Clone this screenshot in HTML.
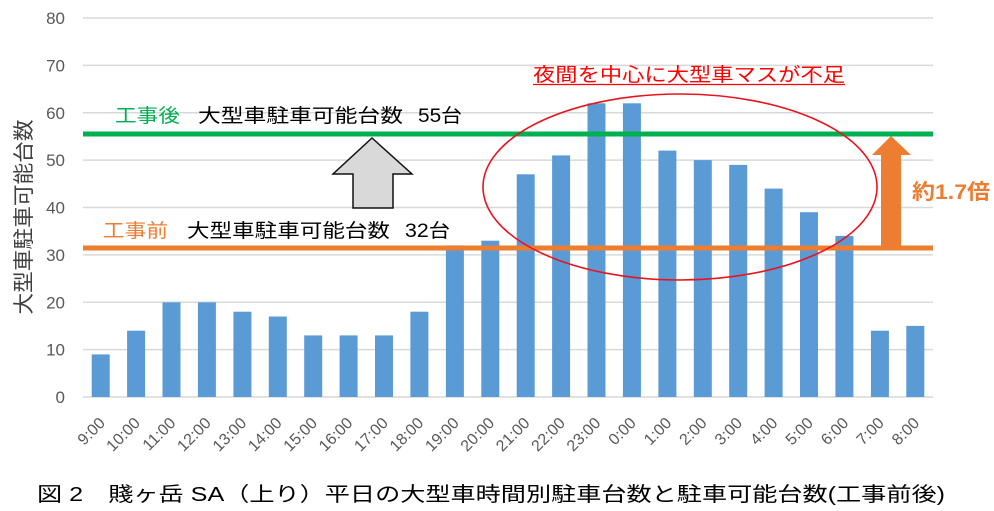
<!DOCTYPE html>
<html><head><meta charset="utf-8"><style>
html,body{margin:0;padding:0;background:#fff;}
svg{display:block;}
text{font-family:"Liberation Sans","Noto Sans CJK JP",sans-serif;}
</style></head><body>
<svg width="994" height="511" viewBox="0 0 994 511" xmlns="http://www.w3.org/2000/svg">
<rect width="994" height="511" fill="#fff"/>
<!-- gridlines -->
<g stroke="#D9D9D9" stroke-width="1.5">
<line x1="83" y1="18" x2="933" y2="18"/>
<line x1="83" y1="65.4" x2="933" y2="65.4"/>
<line x1="83" y1="112.8" x2="933" y2="112.8"/>
<line x1="83" y1="160.1" x2="933" y2="160.1"/>
<line x1="83" y1="207.5" x2="933" y2="207.5"/>
<line x1="83" y1="254.9" x2="933" y2="254.9"/>
<line x1="83" y1="302.3" x2="933" y2="302.3"/>
<line x1="83" y1="349.6" x2="933" y2="349.6"/>
<line x1="83" y1="397" x2="933" y2="397"/>
</g>
<!-- y labels -->
<g fill="#595959" font-size="17" text-anchor="end">
<text x="65" y="24">80</text>
<text x="65" y="71.4">70</text>
<text x="65" y="118.8">60</text>
<text x="65" y="166.1">50</text>
<text x="65" y="213.5">40</text>
<text x="65" y="260.9">30</text>
<text x="65" y="308.3">20</text>
<text x="65" y="355.6">10</text>
<text x="65" y="403">0</text>
</g>
<!-- axis title -->
<text x="31" y="217" font-size="21" fill="#404040" text-anchor="middle" textLength="195" lengthAdjust="spacingAndGlyphs" transform="rotate(-90 31 217)">大型車駐車可能台数</text>
<!-- bars -->
<g fill="#5B9BD5">
<rect x="91.7" y="354.4" width="18" height="42.6"/>
<rect x="127.1" y="330.7" width="18" height="66.3"/>
<rect x="162.5" y="302.3" width="18" height="94.7"/>
<rect x="197.9" y="302.3" width="18" height="94.7"/>
<rect x="233.4" y="311.7" width="18" height="85.3"/>
<rect x="268.8" y="316.5" width="18" height="80.5"/>
<rect x="304.2" y="335.4" width="18" height="61.6"/>
<rect x="339.6" y="335.4" width="18" height="61.6"/>
<rect x="375.0" y="335.4" width="18" height="61.6"/>
<rect x="410.4" y="311.7" width="18" height="85.3"/>
<rect x="445.9" y="245.4" width="18" height="151.6"/>
<rect x="481.3" y="240.7" width="18" height="156.3"/>
<rect x="516.7" y="174.3" width="18" height="222.7"/>
<rect x="552.1" y="155.4" width="18" height="241.6"/>
<rect x="587.5" y="103.3" width="18" height="293.7"/>
<rect x="622.9" y="103.3" width="18" height="293.7"/>
<rect x="658.4" y="150.6" width="18" height="246.4"/>
<rect x="693.8" y="160.1" width="18" height="236.9"/>
<rect x="729.2" y="164.9" width="18" height="232.1"/>
<rect x="764.6" y="188.6" width="18" height="208.4"/>
<rect x="800.0" y="212.2" width="18" height="184.8"/>
<rect x="835.4" y="235.9" width="18" height="161.1"/>
<rect x="870.9" y="330.7" width="18" height="66.3"/>
<rect x="906.3" y="325.9" width="18" height="71.1"/>
</g>
<!-- x labels -->
<g fill="#595959" font-size="16" text-anchor="end">
<text transform="translate(106,424) rotate(-45)">9:00</text>
<text transform="translate(141.1,424) rotate(-45)">10:00</text>
<text transform="translate(176.5,424) rotate(-45)">11:00</text>
<text transform="translate(211.9,424) rotate(-45)">12:00</text>
<text transform="translate(247.4,424) rotate(-45)">13:00</text>
<text transform="translate(282.8,424) rotate(-45)">14:00</text>
<text transform="translate(318.2,424) rotate(-45)">15:00</text>
<text transform="translate(353.6,424) rotate(-45)">16:00</text>
<text transform="translate(389.0,424) rotate(-45)">17:00</text>
<text transform="translate(424.4,424) rotate(-45)">18:00</text>
<text transform="translate(459.9,424) rotate(-45)">19:00</text>
<text transform="translate(495.3,424) rotate(-45)">20:00</text>
<text transform="translate(530.7,424) rotate(-45)">21:00</text>
<text transform="translate(566.1,424) rotate(-45)">22:00</text>
<text transform="translate(601.5,424) rotate(-45)">23:00</text>
<text transform="translate(636.9,424) rotate(-45)">0:00</text>
<text transform="translate(672.4,424) rotate(-45)">1:00</text>
<text transform="translate(707.8,424) rotate(-45)">2:00</text>
<text transform="translate(743.2,424) rotate(-45)">3:00</text>
<text transform="translate(778.6,424) rotate(-45)">4:00</text>
<text transform="translate(814.0,424) rotate(-45)">5:00</text>
<text transform="translate(849.4,424) rotate(-45)">6:00</text>
<text transform="translate(884.9,424) rotate(-45)">7:00</text>
<text transform="translate(920.3,424) rotate(-45)">8:00</text>
</g>
<!-- capacity lines -->
<line x1="83" y1="134" x2="933" y2="134" stroke="#00B050" stroke-width="5"/>
<line x1="83" y1="248" x2="933" y2="248" stroke="#ED7D31" stroke-width="5"/>
<!-- ellipse -->
<ellipse cx="680" cy="187" rx="197" ry="93" fill="none" stroke="#E8141E" stroke-width="1.6"/>
<!-- gray arrow -->
<polygon points="372,138 412,174 393,174 393,208 353,208 353,174 333,174" fill="#D9D9D9" stroke="#111" stroke-width="1.5" stroke-linejoin="miter"/>
<!-- orange arrow -->
<polygon points="891,136 911,155 901,155 901,246 881,246 881,155 872,155" fill="#ED7D31"/>
<!-- texts -->
<text x="115" y="122" font-size="19" fill="#00B050" textLength="65" lengthAdjust="spacingAndGlyphs">工事後</text>
<text x="198" y="122" font-size="19" fill="#000" textLength="205" lengthAdjust="spacingAndGlyphs">大型車駐車可能台数</text>
<text x="418" y="122" font-size="19" fill="#000" textLength="44" lengthAdjust="spacingAndGlyphs">55台</text>
<text x="103" y="237" font-size="19" fill="#ED7D31" textLength="65" lengthAdjust="spacingAndGlyphs">工事前</text>
<text x="187" y="237" font-size="19" fill="#000" textLength="203" lengthAdjust="spacingAndGlyphs">大型車駐車可能台数</text>
<text x="405" y="237" font-size="19" fill="#000" textLength="45" lengthAdjust="spacingAndGlyphs">32台</text>
<text x="533" y="81" font-size="19" fill="#FF0000" textLength="312" lengthAdjust="spacingAndGlyphs">夜間を中心に大型車マスが不足</text>
<line x1="533" y1="84.5" x2="845" y2="84.5" stroke="#FF0000" stroke-width="1.3"/>
<text x="912" y="199" font-size="21" font-weight="bold" fill="#ED7D31" textLength="78" lengthAdjust="spacingAndGlyphs">約1.7倍</text>
<!-- caption -->
<text x="37" y="501" font-size="20" fill="#000" textLength="908" lengthAdjust="spacingAndGlyphs">図 2　賤ヶ岳 SA（上り）平日の大型車時間別駐車台数と駐車可能台数(工事前後)</text>
</svg>
</body></html>
